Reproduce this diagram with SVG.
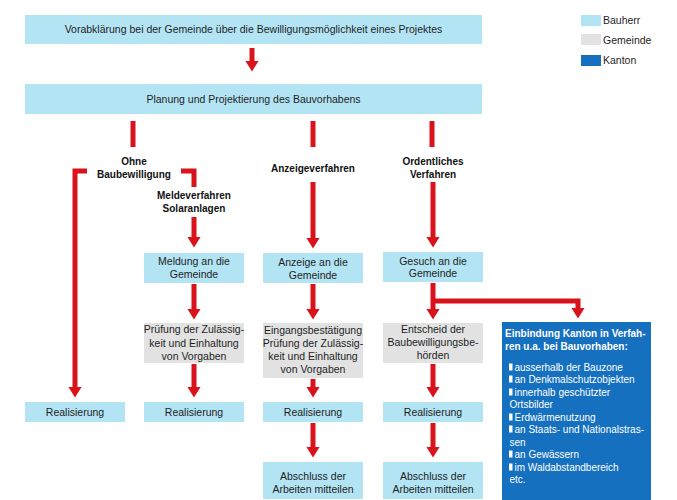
<svg xmlns="http://www.w3.org/2000/svg" width="677" height="500" viewBox="0 0 677 500">
<defs>
<marker id="ah" markerUnits="userSpaceOnUse" markerWidth="16" markerHeight="14" viewBox="0 -8 13 16" refX="0" refY="0" orient="auto">
<path d="M0,-7.5 L12,0 L0,7.5 Z" fill="#d9131b"/>
</marker>
<style>
.bh{fill:#b3e4f4}
.gm{fill:#e2e2e2}
.kt{fill:#1570c0}
.t{font-family:"Liberation Sans",Arial,sans-serif;font-size:10.5px;fill:#1e1e1e;text-anchor:middle}
.b{font-family:"Liberation Sans",Arial,sans-serif;font-size:10px;font-weight:bold;fill:#111;text-anchor:middle}
.lg{font-family:"Liberation Sans",Arial,sans-serif;font-size:10.5px;fill:#1e1e1e}
.kw{font-family:"Liberation Sans",Arial,sans-serif;font-size:10px;fill:#fff}
.kb{font-family:"Liberation Sans",Arial,sans-serif;font-size:10px;font-weight:bold;fill:#fff}
.c{fill:none;stroke:#d9131b;stroke-width:5;stroke-linejoin:miter}
.a{fill:none;stroke:#d9131b;stroke-width:5;marker-end:url(#ah)}
</style>
</defs>
<rect width="677" height="500" fill="#fff"/>

<g id="legend">
<rect class="bh" x="581" y="15" width="20" height="11"/>
<text class="lg" x="603" y="24">Bauherr</text>
<rect class="gm" x="581" y="34" width="20" height="11"/>
<text class="lg" x="603" y="44">Gemeinde</text>
<rect class="kt" x="581" y="55" width="20" height="11"/>
<text class="lg" x="603" y="64">Kanton</text>
</g>

<g id="connectors">
<path class="a" d="M252,48 V61"/>
<path class="c" d="M133,121 V147"/>
<path class="c" d="M313,121 V147"/>
<path class="c" d="M432,121 V147"/>
<path class="a" d="M87,171 H75 V387"/>
<path class="c" d="M181,171 H194 V187"/>
<path class="a" d="M194,217 V237"/>
<path class="a" d="M313,182 V238"/>
<path class="a" d="M433,182 V237"/>
<path class="a" d="M194,284 V309"/>
<path class="a" d="M313,284 V309"/>
<path class="a" d="M433,283 V309"/>
<path class="a" d="M433,301 H578 V308"/>
<path class="a" d="M194,364 V387"/>
<path class="a" d="M313,379 V387"/>
<path class="a" d="M433,364 V387"/>
<path class="a" d="M313,423 V447"/>
<path class="a" d="M433,423 V447"/>
</g>

<g id="vorabklaerung">
<rect class="bh" x="25" y="15" width="457" height="29"/>
<text class="t" x="253.5" y="33">Vorabklärung bei der Gemeinde über die Bewilligungsmöglichkeit eines Projektes</text>
</g>
<g id="planung">
<rect class="bh" x="25" y="84" width="457" height="30"/>
<text class="t" x="253.5" y="103">Planung und Projektierung des Bauvorhabens</text>
</g>

<g id="label-ohne">
<text class="b" x="134" y="164.5">Ohne</text>
<text class="b" x="134" y="177.5">Baubewilligung</text>
</g>
<g id="label-melde">
<text class="b" x="194" y="198.5">Meldeverfahren</text>
<text class="b" x="194" y="211.5">Solaranlagen</text>
</g>
<g id="label-anzeige">
<text class="b" x="313" y="171.5">Anzeigeverfahren</text>
</g>
<g id="label-ordentlich">
<text class="b" x="433" y="164.5">Ordentliches</text>
<text class="b" x="433" y="177.5">Verfahren</text>
</g>

<g id="meldung">
<rect class="bh" x="144" y="253" width="100" height="30"/>
<text class="t" x="194" y="264.5">Meldung an die</text>
<text class="t" x="194" y="277.5">Gemeinde</text>
</g>
<g id="anzeige">
<rect class="bh" x="263" y="253" width="100" height="30"/>
<text class="t" x="313" y="266">Anzeige an die</text>
<text class="t" x="313" y="278.5">Gemeinde</text>
</g>
<g id="gesuch">
<rect class="bh" x="383" y="252" width="100" height="30"/>
<text class="t" x="433" y="264.5">Gesuch an die</text>
<text class="t" x="433" y="277">Gemeinde</text>
</g>

<g id="pruefung">
<rect class="gm" x="144" y="323" width="100" height="40"/>
<text class="t" x="194" y="333">Prüfung der Zulässig-</text>
<text class="t" x="194" y="346.5">keit und Einhaltung</text>
<text class="t" x="194" y="359.5">von Vorgaben</text>
</g>
<g id="eingang">
<rect class="gm" x="263" y="323" width="100" height="55"/>
<text class="t" x="313" y="333.5">Eingangsbestätigung</text>
<text class="t" x="313" y="346.5">Prüfung der Zulässig-</text>
<text class="t" x="313" y="360">keit und Einhaltung</text>
<text class="t" x="313" y="373">von Vorgaben</text>
</g>
<g id="entscheid">
<rect class="gm" x="383" y="323" width="100" height="40"/>
<text class="t" x="433" y="332.5">Entscheid der</text>
<text class="t" x="433" y="345.5">Baubewilligungsbe-</text>
<text class="t" x="433" y="359">hörden</text>
</g>

<g id="kanton">
<rect class="kt" x="502" y="322" width="149" height="178"/>
<text class="kb" x="505" y="337">Einbindung Kanton in Verfah-</text>
<text class="kb" x="505" y="350">ren u.a. bei Bauvorhaben:</text>
<g fill="#fff">
<rect x="509" y="363.5" width="3.5" height="7"/>
<rect x="509" y="375.5" width="3.5" height="7"/>
<rect x="509" y="388.5" width="3.5" height="7"/>
<rect x="509" y="413.5" width="3.5" height="7"/>
<rect x="509" y="425.5" width="3.5" height="7"/>
<rect x="509" y="450.5" width="3.5" height="7"/>
<rect x="509" y="463.5" width="3.5" height="7"/>
</g>
<text class="kw" x="514.5" y="370.7">ausserhalb der Bauzone</text>
<text class="kw" x="514.5" y="382.7">an Denkmalschutzobjekten</text>
<text class="kw" x="514.5" y="395.7">innerhalb geschützter</text>
<text class="kw" x="509.5" y="407.7">Ortsbilder</text>
<text class="kw" x="514.5" y="420.7">Erdwärmenutzung</text>
<text class="kw" x="514.5" y="432.7">an Staats- und Nationalstras-</text>
<text class="kw" x="509.5" y="445.7">sen</text>
<text class="kw" x="514.5" y="457.7">an Gewässern</text>
<text class="kw" x="514.5" y="470.7">im Waldabstandbereich</text>
<text class="kw" x="509.5" y="482.7">etc.</text>
</g>

<g id="realisierung-1">
<rect class="bh" x="25" y="402" width="100" height="20"/>
<text class="t" x="75" y="415.7">Realisierung</text>
</g>
<g id="realisierung-2">
<rect class="bh" x="144" y="402" width="100" height="20"/>
<text class="t" x="194" y="415.7">Realisierung</text>
</g>
<g id="realisierung-3">
<rect class="bh" x="263" y="402" width="100" height="20"/>
<text class="t" x="313" y="415.7">Realisierung</text>
</g>
<g id="realisierung-4">
<rect class="bh" x="383" y="402" width="100" height="20"/>
<text class="t" x="433" y="415.7">Realisierung</text>
</g>

<g id="abschluss-1">
<rect class="bh" x="263" y="462" width="100" height="37"/>
<text class="t" x="313" y="479.5">Abschluss der</text>
<text class="t" x="313" y="492.5">Arbeiten mitteilen</text>
</g>
<g id="abschluss-2">
<rect class="bh" x="383" y="462" width="100" height="37"/>
<text class="t" x="433" y="479.5">Abschluss der</text>
<text class="t" x="433" y="492.5">Arbeiten mitteilen</text>
</g>
</svg>
